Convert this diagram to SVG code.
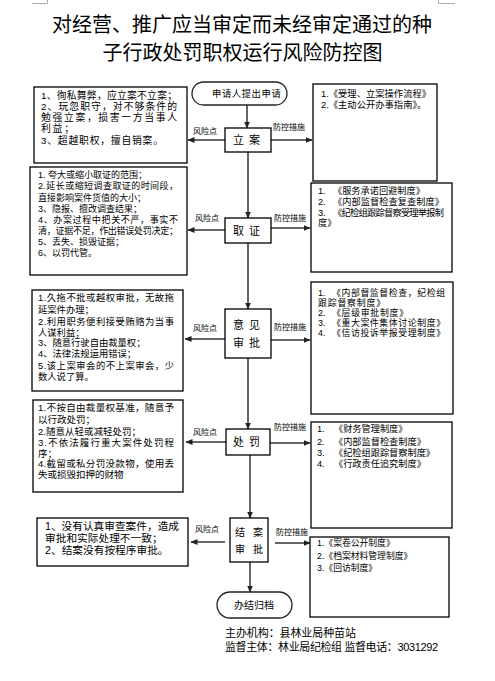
<svg xmlns="http://www.w3.org/2000/svg" width="495" height="681" viewBox="0 0 495 681">
<defs>
<marker id="ah" markerWidth="7" markerHeight="6" refX="6.5" refY="3" orient="auto" markerUnits="userSpaceOnUse">
<path d="M0,0 L7,3 L0,6 Z" fill="#222"/>
</marker>
<style>
text{font-family:"Liberation Sans","Noto Sans CJK SC",sans-serif;fill:#000}
.box{fill:#fff;stroke:#000;stroke-width:1.3}
.pill{fill:#fff;stroke:#222;stroke-width:1.3}
.arr{stroke:#333;stroke-width:1.5;fill:none;marker-end:url(#ah)}
.lbl{font-size:8px}
.ttl{font-size:20px}
.c{font-size:11px;letter-spacing:5px}
.mark{stroke:#aaa;stroke-width:1;fill:none}
</style>
</defs>
<rect width="495" height="681" fill="#fff"/>
<path class="mark" d="M32,3.5 H47.5 V0 M438.5,0 V3.5 H455"/>
<g id="title">
<text class="ttl" text-anchor="middle"><tspan x="242" y="31.5">对经营、推广应当审定而未经审定通过的种</tspan><tspan x="242.5" y="59.5">子行政处罚职权运行风险防控图</tspan></text>
</g>
<g id="connectors">
<line class="arr" x1="247" y1="105" x2="247" y2="128"/>
<line class="arr" x1="248" y1="152" x2="248" y2="218"/>
<line class="arr" x1="248" y1="243" x2="248" y2="309"/>
<line class="arr" x1="248" y1="358" x2="248" y2="429"/>
<line class="arr" x1="250" y1="455" x2="250" y2="518"/>
<line class="arr" x1="250" y1="562" x2="250" y2="592"/>
<line class="arr" x1="225" y1="140" x2="188" y2="140"/>
<line class="arr" x1="271" y1="140" x2="312" y2="140"/>
<line class="arr" x1="225" y1="230" x2="188" y2="230"/>
<line class="arr" x1="271" y1="228" x2="310" y2="228"/>
<line class="arr" x1="225" y1="339" x2="185" y2="339"/>
<line class="arr" x1="271" y1="340" x2="310" y2="340"/>
<line class="arr" x1="226" y1="442" x2="186" y2="442"/>
<line class="arr" x1="270" y1="443" x2="310" y2="443"/>
<line class="arr" x1="225" y1="542" x2="191" y2="542"/>
<line class="arr" x1="275" y1="543" x2="310" y2="543"/>
<text class="lbl" x="193" y="134">风险点</text>
<text class="lbl" x="273" y="130">防控措施</text>
<text class="lbl" x="195" y="221">风险点</text>
<text class="lbl" x="274" y="221">防控措施</text>
<text class="lbl" x="193" y="331">风险点</text>
<text class="lbl" x="274" y="330">防控措施</text>
<text class="lbl" x="193" y="435">风险点</text>
<text class="lbl" x="274" y="430">防控措施</text>
<text class="lbl" x="195" y="532">风险点</text>
<text class="lbl" x="276" y="535">防控措施</text>
</g>
<g id="start">
<rect class="pill" x="192" y="82" width="95" height="23" rx="11.5"/>
<text x="212" y="97" font-size="9.3" letter-spacing="0.6">申请人提出申请</text>
</g>
<g id="lian">
<rect class="box" x="225" y="128" width="46" height="24"/>
<text class="c" x="233" y="144">立案</text>
</g>
<g id="quzheng">
<rect class="box" x="225" y="218" width="46" height="25"/>
<text class="c" x="233" y="235">取证</text>
</g>
<g id="yijian">
<rect class="box" x="225" y="309" width="46" height="49"/>
<text class="c"><tspan x="233" y="329">意见</tspan><tspan x="233" y="347">审批</tspan></text>
</g>
<g id="chufa">
<rect class="box" x="226" y="429" width="44" height="26"/>
<text class="c" x="233" y="446">处罚</text>
</g>
<g id="jiean">
<rect class="box" x="230" y="518" width="38" height="44"/>
<text font-size="10" letter-spacing="8"><tspan x="235" y="536">结案</tspan><tspan x="235" y="553">审批</tspan></text>
</g>
<g id="end">
<rect class="pill" x="217" y="592" width="75" height="26" rx="13"/>
<text x="254" y="609" font-size="10" text-anchor="middle">办结归档</text>
</g>
<g id="risk1">
<rect class="box" x="34" y="87" width="153" height="76"/>
<text font-size="9.8"><tspan x="41" y="98.5" textLength="136" lengthAdjust="spacing">1、徇私舞弊，应立案不立案；</tspan><tspan x="41" y="109.5" textLength="136" lengthAdjust="spacing">2、玩忽职守，对不够条件的</tspan><tspan x="41" y="120.5" textLength="136" lengthAdjust="spacing">勉强立案，损害一方当事人</tspan><tspan x="41" y="131.5" textLength="33" lengthAdjust="spacing">利益；</tspan><tspan x="41" y="144" textLength="122" lengthAdjust="spacing">3、超越职权，擅自销案。</tspan></text>
</g>
<g id="ctrl1">
<rect class="box" x="313" y="84" width="124" height="97"/>
<text font-size="9.3"><tspan x="321" y="97.3">1.《受理、立案操作流程》</tspan><tspan x="321" y="107.8">2.《主动公开办事指南》。</tspan></text>
</g>
<g id="risk2">
<rect class="box" x="30" y="167" width="157" height="108"/>
<text font-size="9"><tspan x="38" y="177.5">1. 夸大或缩小取证的范围；</tspan><tspan x="38" y="189" textLength="140" lengthAdjust="spacing">2.延长或缩短调查取证的时间段，</tspan><tspan x="38" y="200.5">直接影响案件货值的大小；</tspan><tspan x="38" y="211.5">3、隐报、擅改调查结果；</tspan><tspan x="38" y="222.5" textLength="140" lengthAdjust="spacing">4、办案过程中把关不严，事实不</tspan><tspan x="38" y="233.5" textLength="140" lengthAdjust="spacing">清，证据不足，作出错误处罚决定；</tspan><tspan x="38" y="244.5">5、丢失、损毁证据；</tspan><tspan x="38" y="255.5">6、以罚代管。</tspan></text>
</g>
<g id="ctrl2">
<rect class="box" x="311" y="183" width="141" height="89"/>
<text font-size="9.2"><tspan x="318" y="194.3">1.</tspan><tspan x="333" y="194.3">《服务承诺回避制度》</tspan><tspan x="318" y="204.8">2.</tspan><tspan x="333" y="204.8" textLength="111" lengthAdjust="spacing">《内部监督检查复查制度》</tspan><tspan x="318" y="215.5">3.</tspan><tspan x="333" y="215.5" textLength="111" lengthAdjust="spacing">《纪检组跟踪督察受理举报制</tspan><tspan x="318" y="226.3">度》</tspan></text>
</g>
<g id="risk3">
<rect class="box" x="32" y="290" width="151" height="101"/>
<text font-size="9.3"><tspan x="38" y="300.5" textLength="136" lengthAdjust="spacing">1.久拖不批或越权审批，无故拖</tspan><tspan x="38" y="313">延案件办理；</tspan><tspan x="38" y="324.8" textLength="136" lengthAdjust="spacing">2.利用职务便利接受贿赂为当事</tspan><tspan x="38" y="335.5">人谋利益；</tspan><tspan x="38" y="346.3">3、随意行驶自由裁量权；</tspan><tspan x="38" y="357.2">4、法律法规运用错误；</tspan><tspan x="38" y="368.8" textLength="136" lengthAdjust="spacing">5.该上案审会的不上案审会，少</tspan><tspan x="38" y="379.6">数人说了算。</tspan></text>
</g>
<g id="ctrl3">
<rect class="box" x="311" y="282" width="142" height="132"/>
<text font-size="8.9"><tspan x="318" y="295.8">1.</tspan><tspan x="332" y="295.8" textLength="113" lengthAdjust="spacing">《内部督监督检查，纪检组</tspan><tspan x="318" y="305.8" textLength="67" lengthAdjust="spacing">跟踪督察制度》</tspan><tspan x="318" y="315.8">2.</tspan><tspan x="332" y="315.8" textLength="76" lengthAdjust="spacing">《层级审批制度》</tspan><tspan x="318" y="325.8">3.</tspan><tspan x="332" y="325.8" textLength="113" lengthAdjust="spacing">《重大案件集体讨论制度》</tspan><tspan x="318" y="335.8">4.</tspan><tspan x="332" y="335.8" textLength="113" lengthAdjust="spacing">《信访投诉举报受理制度》</tspan></text>
</g>
<g id="risk4">
<rect class="box" x="33" y="400" width="150" height="92"/>
<text font-size="9.5"><tspan x="38" y="410.5" textLength="136" lengthAdjust="spacing">1.不按自由裁量权基准，随意予</tspan><tspan x="38" y="422.5">以行政处罚；</tspan><tspan x="38" y="434.8">2.随意从轻或减轻处罚；</tspan><tspan x="38" y="445.8" textLength="136" lengthAdjust="spacing">3.不依法履行重大案件处罚程</tspan><tspan x="38" y="456.5">序；</tspan><tspan x="38" y="467.3" textLength="136" lengthAdjust="spacing">4.截留或私分罚没款物，使用丢</tspan><tspan x="38" y="478.2">失或损毁扣押的财物</tspan></text>
</g>
<g id="ctrl4">
<rect class="box" x="311" y="422" width="141" height="106"/>
<text font-size="9.2"><tspan x="317" y="431.5">1.</tspan><tspan x="334" y="431.5">《财务管理制度》</tspan><tspan x="317" y="444.5">2.</tspan><tspan x="334" y="444.5">《内部监督检查制度》</tspan><tspan x="317" y="455.5">3.</tspan><tspan x="334" y="455.5">《纪检组跟踪督察制度》</tspan><tspan x="317" y="466.5">4.</tspan><tspan x="334" y="466.5">《行政责任追究制度》</tspan></text>
</g>
<g id="risk5">
<rect class="box" x="37" y="518" width="151" height="48"/>
<text font-size="10.7"><tspan x="45" y="530.3" textLength="134" lengthAdjust="spacing">1、没有认真审查案件，造成</tspan><tspan x="45" y="542.3">审批和实际处理不一致；</tspan><tspan x="45" y="554.3">2、结案没有按程序审批。</tspan></text>
</g>
<g id="ctrl5">
<rect class="box" x="310" y="537" width="139" height="80"/>
<text font-size="8.8"><tspan x="317" y="546">1.《案卷公开制度》</tspan><tspan x="317" y="558.5">2.《档案材料管理制度》</tspan><tspan x="317" y="571">3.《回访制度》</tspan></text>
</g>
<g id="footer">
<text font-size="11"><tspan x="225" y="637" textLength="131" lengthAdjust="spacing">主办机构：县林业局种苗站</tspan><tspan x="225" y="651" textLength="213" lengthAdjust="spacing">监督主体：林业局纪检组 监督电话：3031292</tspan></text>
</g>
</svg>
